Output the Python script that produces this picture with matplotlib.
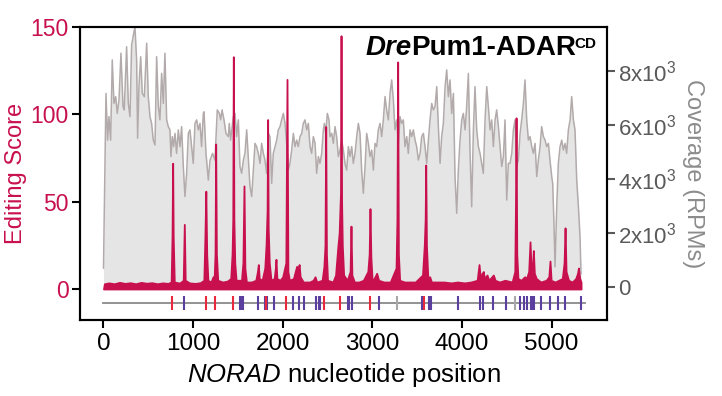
import numpy as np
import matplotlib.pyplot as plt

plt.rcParams['font.family'] = ['Liberation Sans', 'DejaVu Sans']
plt.rcParams['mathtext.fontset'] = 'custom'
plt.rcParams['mathtext.rm'] = 'Liberation Sans'
plt.rcParams['mathtext.it'] = 'Liberation Sans:italic'

# coverage (x10^3 RPM) along NORAD
cov_pos = [0, 28, 46, 61, 80, 98, 117, 136, 154, 173, 195, 218, 232, 258, 277, 296, 314, 351,
           370, 381, 396, 415, 433, 456, 482, 500, 519, 537, 556, 575, 593, 612, 630, 649, 668,
           686, 705, 723, 742, 753, 768, 783, 798, 816, 835, 854, 872, 891, 909, 928, 947, 965,
           984, 1002, 1021, 1040, 1058, 1077, 1095, 1114, 1122, 1144, 1170, 1189, 1218, 1244,
           1270, 1293, 1308, 1323, 1345, 1367, 1393, 1404, 1419, 1449, 1468, 1486, 1505, 1523,
           1542, 1561, 1579, 1598, 1616, 1635, 1654, 1672, 1691, 1709, 1728, 1747, 1765, 1784,
           1802, 1821, 1840, 1858, 1877, 1895, 1914, 1933, 1951, 1970, 1988, 2007, 2026, 2044,
           2063, 2081, 2100, 2119, 2137, 2156, 2174, 2193, 2212, 2230, 2249, 2268, 2286, 2305,
           2323, 2342, 2361, 2379, 2398, 2416, 2435, 2454, 2465, 2480, 2498, 2517, 2528, 2547,
           2565, 2584, 2602, 2621, 2640, 2658, 2677, 2695, 2714, 2733, 2751, 2770, 2788, 2807,
           2826, 2844, 2863, 2881, 2900, 2919, 2937, 2956, 2974, 2993, 3012, 3030, 3049, 3067,
           3086, 3105, 3123, 3142, 3160, 3179, 3198, 3216, 3235, 3253, 3272, 3291, 3309, 3328,
           3346, 3365, 3384, 3402, 3421, 3440, 3458, 3477, 3495, 3514, 3533, 3551, 3570, 3588,
           3607, 3626, 3644, 3663, 3681, 3700, 3719, 3737, 3756, 3774, 3793, 3812, 3830, 3849,
           3867, 3886, 3905, 3923, 3942, 3960, 3979, 3998, 4016, 4035, 4053, 4072, 4091, 4109,
           4128, 4146, 4165, 4184, 4202, 4221, 4239, 4258, 4277, 4295, 4314, 4332, 4351, 4370,
           4388, 4407, 4425, 4444, 4463, 4481, 4500, 4518, 4537, 4556, 4574, 4593, 4611, 4630,
           4649, 4667, 4686, 4704, 4723, 4742, 4760, 4779, 4797, 4816, 4835, 4853, 4872, 4890,
           4909, 4928, 4946, 4965, 4983, 5002, 5013, 5028, 5039, 5058, 5076, 5095, 5114, 5132,
           5151, 5169, 5188, 5207, 5225, 5244, 5262, 5281, 5300, 5318, 5329]
cov_k = [0.7, 7.17, 5.44, 6.31, 5.44, 8.41, 6.80, 7.05, 6.43, 6.93, 8.66, 6.68, 6.56, 8.90, 6.80,
         6.31, 8.96, 9.64, 8.41, 5.51, 7.42, 8.53, 7.17, 7.05, 9.03, 7.05, 6.31, 6.06, 5.44, 5.26,
         8.53, 6.68, 6.19, 7.91, 6.80, 8.66, 6.19, 5.94, 5.82, 4.83, 5.57, 5.20, 5.69, 4.95, 5.82,
         5.20, 5.94, 4.46, 3.35, 4.21, 5.69, 5.82, 5.20, 4.58, 6.06, 6.19, 5.82, 6.06, 5.20, 6.43,
         6.49, 4.95, 3.96, 4.70, 4.95, 4.70, 6.56, 6.43, 6.19, 6.56, 6.19, 5.69, 5.57, 6.06, 5.44,
         6.31, 6.43, 5.57, 6.19, 4.46, 4.21, 4.70, 4.95, 5.82, 4.83, 3.72, 3.35, 4.33, 5.32, 5.20,
         4.95, 4.58, 5.32, 4.95, 4.70, 4.21, 5.69, 5.57, 3.84, 4.95, 5.20, 5.44, 5.82, 5.94, 6.19,
         6.43, 6.06, 5.32, 4.33, 4.58, 5.07, 5.69, 5.20, 5.44, 5.20, 5.57, 5.69, 6.06, 6.19, 5.82,
         6.06, 5.20, 4.95, 5.57, 5.32, 4.21, 4.83, 4.58, 4.95, 5.82, 6.06, 5.69, 6.43, 6.19, 5.57,
         5.69, 5.32, 5.94, 5.57, 4.83, 5.07, 5.44, 5.07, 4.58, 4.33, 5.20, 4.83, 5.20, 4.58, 4.95,
         5.57, 6.06, 5.69, 4.33, 3.47, 4.46, 5.69, 5.32, 4.83, 5.07, 4.33, 5.32, 5.20, 5.82, 6.06,
         5.57, 6.19, 7.05, 6.56, 6.19, 7.17, 7.67, 6.93, 5.82, 6.19, 5.32, 6.31, 6.06, 6.19, 5.20,
         5.57, 4.95, 5.82, 5.57, 5.82, 5.44, 5.20, 4.70, 4.95, 5.57, 5.69, 5.20, 4.58, 5.44, 6.19,
         6.80, 6.56, 6.68, 7.42, 5.94, 4.58, 5.57, 6.06, 7.42, 8.04, 7.05, 7.67, 6.43, 7.17, 4.09,
         2.73, 4.33, 5.44, 6.19, 6.43, 5.82, 6.68, 7.91, 4.95, 2.97, 5.82, 7.42, 5.82, 5.20, 4.95,
         4.58, 4.21, 6.19, 7.42, 6.68, 5.82, 6.19, 5.20, 6.19, 6.56, 5.94, 5.20, 4.46, 4.83, 6.19,
         3.22, 4.58, 4.58, 4.95, 5.82, 6.19, 4.46, 4.70, 5.69, 6.19, 6.80, 7.67, 6.19, 5.44, 5.57,
         5.20, 4.95, 5.32, 4.09, 4.70, 5.20, 5.94, 5.57, 5.44, 5.20, 5.32, 4.70, 4.09, 3.84, 2.23,
         0.75, 2.97, 4.58, 5.20, 5.44, 5.07, 5.32, 4.95, 5.82, 6.19, 7.05, 6.19, 5.82, 3.96, 2.97,
         1.86, 0.50]

# editing score along NORAD
score_pos = [0, 10, 60, 120, 180, 240, 300, 360, 420, 480, 540, 600, 660, 720, 755, 765, 772, 778,
             790, 850, 890, 902, 912, 960, 1020, 1080, 1120, 1132, 1142, 1152, 1165, 1200, 1222,
             1235, 1245, 1252, 1260, 1275, 1330, 1380, 1420, 1435, 1443, 1449, 1455, 1465, 1480,
             1540, 1556, 1568, 1578, 1595, 1650, 1700, 1718, 1728, 1738, 1770, 1800, 1815, 1826,
             1832, 1838, 1850, 1870, 1905, 1918, 1925, 1935, 1970, 2000, 2035, 2048, 2058, 2075,
             2120, 2140, 2156, 2170, 2183, 2195, 2230, 2300, 2340, 2361, 2380, 2440, 2460, 2472,
             2480, 2488, 2500, 2560, 2590, 2615, 2630, 2645, 2651, 2657, 2665, 2680, 2720, 2752,
             2762, 2772, 2800, 2850, 2900, 2950, 2965, 2974, 2984, 2998, 3020, 3049, 3070, 3130,
             3200, 3265, 3275, 3283, 3291, 3305, 3360, 3420, 3480, 3560, 3580, 3590, 3596, 3604,
             3620, 3640, 3660, 3720, 3800, 3880, 3950, 4030, 4100, 4170, 4191, 4205, 4225, 4239,
             4250, 4280, 4300, 4351, 4370, 4420, 4480, 4560, 4590, 4598, 4604, 4612, 4625, 4660,
             4700, 4720, 4745, 4760, 4772, 4790, 4797, 4808, 4830, 4880, 4940, 4970, 4983, 4995,
             5040, 5080, 5120, 5140, 5151, 5162, 5190, 5230, 5270, 5290, 5300, 5315, 5329, 5330]
score_val = [0, 3, 3.5, 3, 3.8, 3.2, 3.6, 3, 3.8, 3.3, 3.6, 3, 3.5, 3.2, 4, 30, 72, 30,
             4, 3.4, 5, 37, 5, 3.5, 3.2, 3.6, 5, 30, 56, 20, 5, 4, 7,
             6, 20, 83, 20, 5, 4, 4.5, 6, 20, 40, 133, 40, 15, 5,
             5, 15, 59, 12, 4, 4, 5, 10, 14, 6, 5, 12, 26, 45,
             97, 35, 15, 5, 6, 12, 17, 6, 5, 7, 15, 120, 10, 5,
             6, 10, 13, 10, 14, 7, 4, 4, 5, 7, 4, 5, 13, 25,
             93, 20, 5, 4, 8, 24, 32, 55, 145, 50, 25, 8, 5, 10,
             36, 8, 4, 4, 5, 10, 20, 46, 18, 5, 6, 9, 5, 4,
             4, 12, 40, 130, 20, 5, 4, 4, 4, 8, 25, 40, 71, 25,
             6, 7, 4, 4, 4, 3.5, 4, 3.5, 4, 5, 14, 6, 9, 10,
             6, 8, 5, 8, 5, 4, 5, 4, 10, 50, 98, 20, 6, 5,
             7, 6, 10, 27, 12, 15, 22, 9, 6, 4, 5, 7, 16, 5,
             4, 5, 6, 15, 35, 10, 5, 4, 6, 9, 12, 6, 4, 0]

# edited sites (track under the profile)
red_sites = [765, 1140, 1244, 1445, 1817, 2040, 2464, 2640, 2975, 3582]
purple_sites = [897, 1525, 1540, 1558, 1720, 1802, 1828, 1905, 2117, 2185, 2240, 2370, 2405,
                2420, 2725, 2745, 2768, 3079, 3560, 3635, 3655, 3951, 4206, 4235, 4351, 4497,
                4649, 4693, 4728, 4768, 4785, 4800, 4880, 4988, 5067, 5153, 5328]
gray_sites = [3276, 4593]
track_end = 5374

xticks = [0, 1000, 2000, 3000, 4000, 5000]
score_ticks = [0, 50, 100, 150]
cov_ticks = [0, 2000, 4000, 6000, 8000]
cov_ticklabels = ['0', '2x10$^3$', '4x10$^3$', '6x10$^3$', '8x10$^3$']

CRIMSON = '#c8104f'
COV_LINE = '#b3abab'
COV_FILL = '#e5e5e5'

fig = plt.figure(figsize=(7.22, 3.96), dpi=100)
ax = fig.add_axes([80 / 722, 1 - 320 / 396, 527 / 722, 293 / 396])
ax2 = ax.twinx()

cov = np.array(cov_k) * 1000
ax2.fill_between(cov_pos, 0, cov, color=COV_FILL, lw=0)
ax2.plot(cov_pos, cov, color=COV_LINE, lw=1.1)
ax2.set_ylim(-1222, 9630)
ax2.set_yticks(cov_ticks)
ax2.set_yticklabels(cov_ticklabels)
ax2.tick_params(axis='y', labelsize=16, colors='#5a5a5a', length=6, width=1.5, pad=2)
ax2.set_ylabel('Coverage (RPMs)', fontsize=17, color='#8c8c8c', rotation=270, labelpad=20)

ax.set_zorder(ax2.get_zorder() + 1)
ax.patch.set_visible(False)
ax.fill_between(score_pos, 0, score_val, color=CRIMSON, lw=1.3, edgecolor=CRIMSON)

y0, h = -8, 3.8
ax.plot([0, track_end], [y0, y0], color='#8a8a8a', lw=1.3)
ax.vlines(gray_sites, y0 - h, y0 + h, color='#a8a8a8', lw=1.5)
ax.vlines(purple_sites, y0 - h, y0 + h, color='#5a3f9e', lw=1.5)
ax.vlines(red_sites, y0 - h, y0 + h, color='#e8283c', lw=1.5)

ax.set_xlim(-262, 5619)
ax.set_ylim(-17.75, 150)
ax.set_xticks(xticks)
ax.set_yticks(score_ticks)
ax.tick_params(axis='x', labelsize=17.5, length=6, width=1.5, pad=3)
ax.tick_params(axis='y', labelsize=16.5, labelcolor=CRIMSON, length=6, width=1.5, pad=2)
ax.set_ylabel('Editing Score', fontsize=17, color=CRIMSON, labelpad=2.5)
ax.set_xlabel('$\\mathit{NORAD}$ nucleotide position', fontsize=18.5, labelpad=5)

for a in (ax, ax2):
    for s in a.spines.values():
        s.set_linewidth(1.5)

t1 = ax.text(0.541, 0.905, 'Dre', transform=ax.transAxes, fontsize=20,
             fontweight='bold', fontstyle='italic', va='baseline')
t2 = ax.annotate('Pum1-ADAR', xy=(1, 0), xycoords=t1, fontsize=20,
                 fontweight='bold', va='bottom')
ax.annotate('CD', xy=(1, 1), xycoords=t2, fontsize=11, fontweight='bold',
            va='top', xytext=(-1.5, -1.5), textcoords='offset points')

fig.savefig('out.png', dpi=100)
